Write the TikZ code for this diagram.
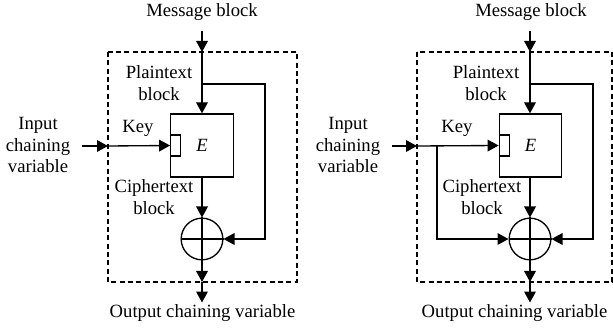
\documentclass[tikz,border=0pt]{standalone}
\usepackage{fontspec}
\setmainfont{Liberation Serif}
\usetikzlibrary{positioning}
\usetikzlibrary{arrows.meta}

\begin{document}
\begin{tikzpicture}[
    x = 0.6pt, y = -0.6pt,
    every node/.style = {font = \fontsize{11.2}{13}\selectfont},
    line/.style = {line width = 0.8pt},
    arr/.style = {line, -{Triangle[length = 6.6pt, width = 7pt]}},
    frame/.style = {line width = 0.65pt, dash pattern = on 3pt off 2pt},
    ebox/.style = {shape = rectangle, draw, line width = 0.8pt, minimum width = 37.5pt, minimum height = 37.8pt, inner sep = 0pt},
    keyrect/.style = {shape = rectangle, draw, line width = 0.8pt, minimum width = 6pt, minimum height = 12.6pt, inner sep = 0pt},
    xor/.style = {shape = circle, draw, line width = 0.8pt, minimum size = 25pt, inner sep = 0pt},
    txt/.style = {align = center, inner sep = 1pt},
    ]
    \useasboundingbox (0, 0) rectangle (613, 330);

    % left: plain construction
    \node[txt] (M1) at (202, 12) {Message block};
    \node[ebox] (E1) at (202, 145.5) {\textit{E}};
    \node[keyrect, anchor = west] (K1) at (E1.west) {};
    \node[xor] (X1) at (202, 239) {};
    \node[txt] (O1) at (202.5, 313) {Output chaining variable};
    \node[txt] (I1) at (38, 145) {Input\\chaining\\variable};
    \node[txt] (P1) at (159, 83) {Plaintext\\block};
    \node[txt] (C1) at (154, 197) {Ciphertext\\block};
    \node[txt] (Y1) at (138, 128) {Key};

    \draw[frame] (108, 52) rectangle (297, 282);
    \coordinate (T1) at (202, 52);
    \coordinate (B1) at (202, 282);
    \coordinate (L1) at (108, 146);
    \coordinate (S1) at (82, 146);
    \coordinate (U1) at (202, 84);
    \coordinate (R1) at (265, 84);

    \draw[arr, shorten < = 5pt] (M1.south) -- (T1);
    \draw[arr] (T1) -- (E1.north);
    \draw[arr] (U1) -- (R1) |- (X1.east);
    \draw[arr] (S1) -- (L1);
    \draw[arr] (L1) -- (K1.west);
    \draw[arr] (E1.south) -- (X1.north);
    \draw[arr] (X1.south) -- (B1);
    \draw[arr] (B1) -- (O1.north -| B1);
    \draw[line] (X1.north) -- (X1.south) (X1.west) -- (X1.east);

    % right: with key fed forward
    \node[txt] (M2) at (531, 12) {Message block};
    \node[ebox] (E2) at (530.5, 145.5) {\textit{E}};
    \node[keyrect, anchor = west] (K2) at (E2.west) {};
    \node[xor] (X2) at (530, 239) {};
    \node[txt] (O2) at (514.5, 313) {Output chaining variable};
    \node[txt] (I2) at (348, 145) {Input\\chaining\\variable};
    \node[txt] (P2) at (486, 83) {Plaintext\\block};
    \node[txt] (C2) at (482, 197) {Ciphertext\\block};
    \node[txt] (Y2) at (457, 128) {Key};

    \draw[frame] (417, 52) rectangle (612, 282);
    \coordinate (T2) at (530, 52);
    \coordinate (B2) at (530, 282);
    \coordinate (L2) at (417, 146);
    \coordinate (S2) at (392, 146);
    \coordinate (J2) at (437, 146);
    \coordinate (U2) at (530, 84);
    \coordinate (R2) at (593, 84);

    \draw[arr, shorten < = 5pt] (M2.south -| T2) -- (T2);
    \draw[arr] (T2) -- (E2.north -| T2);
    \draw[arr] (U2) -- (R2) |- (X2.east);
    \draw[arr] (S2) -- (L2);
    \draw[arr] (L2) -- (K2.west);
    \draw[arr] (J2) |- (X2.west);
    \draw[arr] (E2.south -| X2) -- (X2.north);
    \draw[arr] (X2.south) -- (B2);
    \draw[arr] (B2) -- (O2.north -| B2);
    \draw[line] (X2.north) -- (X2.south) (X2.west) -- (X2.east);
\end{tikzpicture}
\end{document}
